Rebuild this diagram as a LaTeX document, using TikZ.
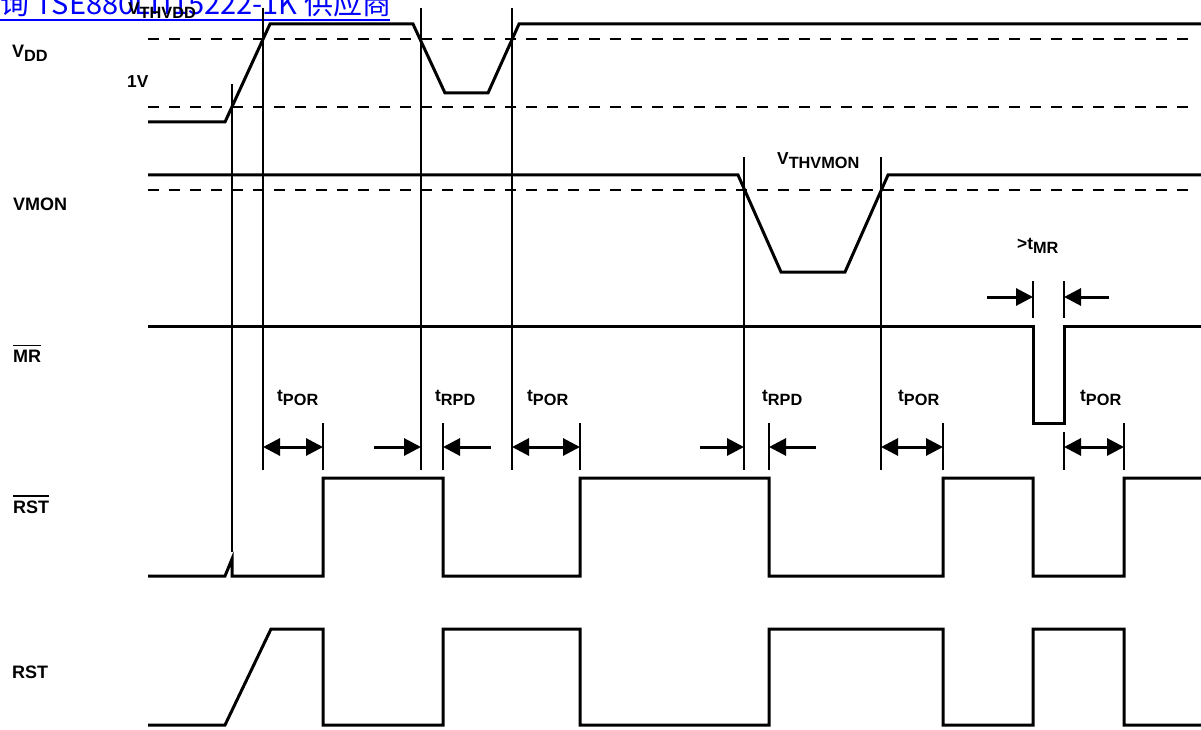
\documentclass[tikz,border=0pt]{standalone}
\usepackage{fontspec}
\setmainfont{Liberation Sans}
\newfontfamily\cjk{Noto Sans CJK SC}
\usetikzlibrary{arrows.meta}
\newcommand\sbs[1]{\raisebox{-4pt}{\fontsize{16.3}{17}\selectfont #1}}
\newcommand\ovbar[1]{\vbox{\hrule height 1.6pt\kern 3.5pt\hbox{#1}}}
\begin{document}
\begin{tikzpicture}[x=1pt,y=-1pt,
  sig/.style={line width=3pt, line join=miter},
  markln/.style={line width=2pt},
  thr/.style={line width=2.5pt, dash pattern=on 11pt off 10pt},
  lbl/.style={font=\fontsize{18}{20}\selectfont\bfseries, anchor=base west, inner sep=0pt},
  slbl/.style={font=\fontsize{17.3}{20}\selectfont\bfseries, anchor=base west, inner sep=0pt},
  dimto/.style={line width=3pt, -{Triangle[length=17pt,width=17pt]}},
  dimboth/.style={line width=3pt, {Triangle[length=17pt,width=17pt]}-{Triangle[length=17pt,width=17pt]}}]
\clip (0,0) rectangle (1201,730);
\fill[white] (0,0) rectangle (1201,730);

% watermark link
\node[anchor=base west, inner sep=0pt, text=blue, font=\cjk\fontsize{29}{29}\selectfont] (wm) at (0,15) {询 TSE880LTI15222-1K 供应商};
\draw[blue, line width=2pt] (0,20) -- (390,20);

% threshold lines
\draw[thr] (148,39) -- (1195,39);
\draw[thr] (148,107) -- (1195,107);
\draw[thr] (148,190) -- (1195,190);

% signals
\draw[sig] (148,122) -- (225,122) -- (270,24) -- (413,24) -- (445,93) -- (488,93) -- (519,24) -- (1201,24);
\draw[sig] (148,175) -- (738,175) -- (781,272) -- (845,272) -- (888,175) -- (1201,175);
\draw[sig] (148,326) -- (1033,326) -- (1033,423) -- (1064,423) -- (1064,326) -- (1201,326);
\draw[sig] (148,576) -- (225,576) -- (232,559) -- (232,576) -- (323,576) -- (323,478) -- (443,478) -- (443,576) -- (580,576) -- (580,478) -- (769,478) -- (769,576) -- (943,576) -- (943,478) -- (1033,478) -- (1033,576) -- (1124,576) -- (1124,478) -- (1201,478);
\draw[sig] (148,725) -- (225,725) -- (271,629) -- (323,629) -- (323,725) -- (443,725) -- (443,629) -- (580,629) -- (580,725) -- (769,725) -- (769,629) -- (943,629) -- (943,725) -- (1033,725) -- (1033,629) -- (1124,629) -- (1124,725) -- (1201,725);

% marker coordinates
\coordinate (m1a) at (263,447); \coordinate (m1b) at (323,447);
\coordinate (m2a) at (421,447); \coordinate (m2b) at (443,447);
\coordinate (m3a) at (512,447); \coordinate (m3b) at (580,447);
\coordinate (m4a) at (744,447); \coordinate (m4b) at (769,447);
\coordinate (m5a) at (881,447); \coordinate (m5b) at (943,447);
\coordinate (m6a) at (1064,447); \coordinate (m6b) at (1124,447);
\coordinate (r2a) at (374,447); \coordinate (r2b) at (491,447);
\coordinate (r4a) at (700,447); \coordinate (r4b) at (816,447);
\coordinate (ma) at (1033,297); \coordinate (mb) at (1064,297);
\coordinate (mra) at (987,297); \coordinate (mrb) at (1109,297);

% marker lines
\draw[markln] (232,84) -- (232,552);
\draw[markln] (263,8) -- (263,470);
\draw[markln] (421,8) -- (421,470);
\draw[markln] (512,8) -- (512,470);
\draw[markln] (744,157) -- (744,470);
\draw[markln] (881,157) -- (881,470);
\draw[markln] (323,423) -- (323,470);
\draw[markln] (443,423) -- (443,470);
\draw[markln] (580,423) -- (580,470);
\draw[markln] (769,423) -- (769,470);
\draw[markln] (943,423) -- (943,470);
\draw[markln] (1064,432) -- (1064,470);
\draw[markln] (1124,423) -- (1124,470);
\draw[markln] (1033,281) -- (1033,318);
\draw[markln] (1064,281) -- (1064,318);

% dimension arrows
\draw[dimboth] (m1a) -- (m1b);
\draw[dimto] (r2a) -- (m2a);
\draw[dimto] (r2b) -- (m2b);
\draw[dimboth] (m3a) -- (m3b);
\draw[dimto] (r4a) -- (m4a);
\draw[dimto] (r4b) -- (m4b);
\draw[dimboth] (m5a) -- (m5b);
\draw[dimboth] (m6a) -- (m6b);
\draw[dimto] (mra) -- (ma);
\draw[dimto] (mrb) -- (mb);

% labels
\node[lbl] (lvdd) at (12,58) {V\sbs{DD}};
\node[slbl] (l1v) at (127,88) {1V};
\node[lbl] (lvmon) at (13,210) {VMON};
\node[lbl] (lmr) at (13,362) {\ovbar{MR}};
\node[lbl] (lrstb) at (13,513) {\ovbar{RST}};
\node[lbl] (lrst) at (12,678) {RST};
\node[slbl] (lthvdd) at (128,15) {V\sbs{THVDD}};
\node[slbl] (lthvmon) at (777,165) {V\sbs{THVMON}};
\node[slbl] (ltmr) at (1017,249) {>t\sbs{MR}};
\node[slbl] (t1) at (277,401) {t\sbs{POR}};
\node[slbl] (t2) at (435,401) {t\sbs{RPD}};
\node[slbl] (t3) at (527,401) {t\sbs{POR}};
\node[slbl] (t4) at (762,401) {t\sbs{RPD}};
\node[slbl] (t5) at (898,401) {t\sbs{POR}};
\node[slbl] (t6) at (1080,401) {t\sbs{POR}};
\end{tikzpicture}
\end{document}
